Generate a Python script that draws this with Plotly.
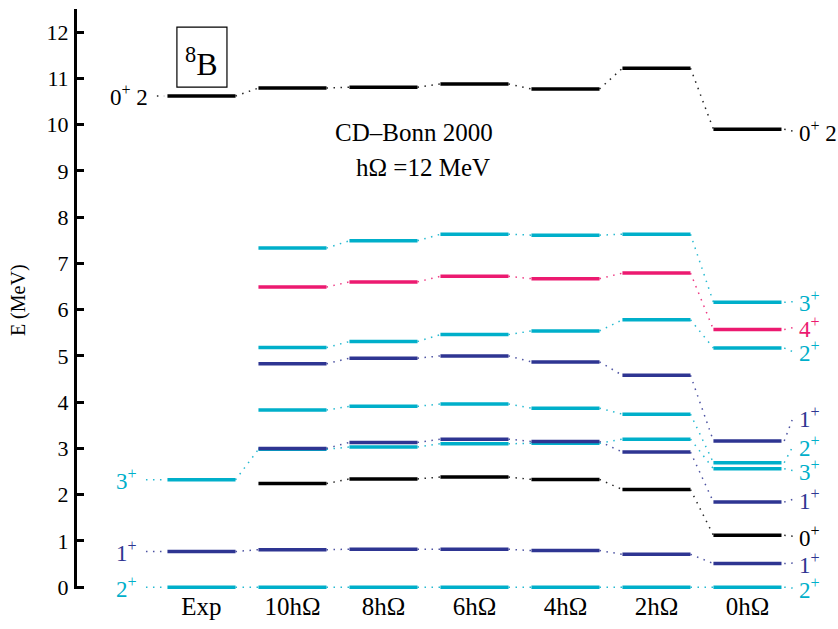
import plotly.graph_objects as go

# Columns of the level scheme: experiment and NCSM model spaces
columns = ["Exp", "10hΩ", "8hΩ", "6hΩ", "4hΩ", "2hΩ", "0hΩ"]

# Excitation energies (MeV) per state, one entry per column (None = not shown)
gs_2p      = [0.00, 0.00, 0.00, 0.00, 0.00, 0.00, 0.00]
first_1p   = [0.77, 0.81, 0.82, 0.82, 0.79, 0.71, 0.51]
first_3p   = [2.32, 2.98, 3.03, 3.10, 3.11, 3.20, 2.56]
first_0p   = [None, 2.24, 2.34, 2.38, 2.33, 2.11, 1.12]
second_1p  = [None, 3.00, 3.13, 3.20, 3.15, 2.92, 1.84]
second_2p  = [None, 3.83, 3.91, 3.96, 3.87, 3.74, 2.69]
third_1p   = [None, 4.83, 4.95, 5.00, 4.87, 4.58, 3.16]
third_2p   = [None, 5.18, 5.31, 5.46, 5.54, 5.78, 5.17]
first_4p   = [None, 6.49, 6.60, 6.72, 6.67, 6.79, 5.57]
second_3p  = [None, 7.33, 7.49, 7.63, 7.61, 7.63, 6.16]
t2_0p      = [10.62, 10.79, 10.81, 10.88, 10.77, 11.22, 9.90]

CYAN = "#00AFCA"
NAVY = "#2E3592"
PINK = "#EC1A70"
BLACK = "#000000"

# drawing order: cyan first so navy lines sit on top where they overlap
states = [
    (gs_2p, CYAN), (first_3p, CYAN), (second_2p, CYAN), (third_2p, CYAN),
    (second_3p, CYAN), (first_4p, PINK), (first_1p, NAVY), (second_1p, NAVY),
    (third_1p, NAVY), (first_0p, BLACK), (t2_0p, BLACK),
]

# Labels on the experimental side: (text, colour, energy)
left_labels = [
    ("2<sup>+</sup>", CYAN, gs_2p[0]),
    ("1<sup>+</sup>", NAVY, first_1p[0]),
    ("3<sup>+</sup>", CYAN, first_3p[0]),
    ("0<sup>+</sup> 2", BLACK, t2_0p[0]),
]
left_label_x = [-0.69, -0.69, -0.69, -0.57]

# Labels on the 0hΩ side: (text, colour, energy of level, label height)
right_labels = [
    ("0<sup>+</sup> 2", BLACK, t2_0p[6], 9.86),
    ("3<sup>+</sup>", CYAN, second_3p[6], 6.17),
    ("4<sup>+</sup>", PINK, first_4p[6], 5.61),
    ("2<sup>+</sup>", CYAN, third_2p[6], 5.09),
    ("1<sup>+</sup>", NAVY, third_1p[6], 3.66),
    ("2<sup>+</sup>", CYAN, second_2p[6], 3.05),
    ("3<sup>+</sup>", CYAN, first_3p[6], 2.52),
    ("1<sup>+</sup>", NAVY, second_1p[6], 1.90),
    ("0<sup>+</sup>", BLACK, first_0p[6], 1.10),
    ("1<sup>+</sup>", NAVY, first_1p[6], 0.52),
    ("2<sup>+</sup>", CYAN, gs_2p[6], -0.02),
]

HALF = 0.374          # half width of a level bar, in column units
FONT = "Liberation Serif"
DOT = "1.5px,5.5px"

fig = go.Figure()

for values, color in states:
    # dotted connectors between neighbouring columns
    cx, cy = [], []
    for i in range(len(values) - 1):
        a, b = values[i], values[i + 1]
        if a is None or b is None:
            continue
        cx += [i + HALF, i + 1 - HALF, None]
        cy += [a, b, None]
    if cx:
        fig.add_trace(go.Scatter(x=cx, y=cy, mode="lines", hoverinfo="skip",
                                 line=dict(color=color, width=1.5, dash=DOT),
                                 opacity=0.85, showlegend=False))

for values, color in states:
    # solid level bars
    lx, ly = [], []
    for i, v in enumerate(values):
        if v is None:
            continue
        lx += [i - HALF, i + HALF, None]
        ly += [v, v, None]
    fig.add_trace(go.Scatter(x=lx, y=ly, mode="lines", hoverinfo="skip",
                             line=dict(color=color, width=3.5),
                             showlegend=False))

annotations = []

# experimental spin labels with short dotted leaders
for (text, color, e), xl in zip(left_labels, left_label_x):
    fig.add_trace(go.Scatter(x=[xl + 0.08, -0.41], y=[e, e], mode="lines",
                             hoverinfo="skip", showlegend=False,
                             line=dict(color=color, width=1.5, dash=DOT),
                             opacity=0.85))
    annotations.append(dict(x=xl, y=e, xref="x", yref="y", text=text,
                            showarrow=False, xanchor="right", yanchor="middle",
                            font=dict(family=FONT, size=23, color=color)))

# 0hΩ spin labels with leaders bent towards the label
for text, color, e, ylab in right_labels:
    fig.add_trace(go.Scatter(x=[6 + HALF + 0.03, 6.50], y=[e, ylab], mode="lines",
                             hoverinfo="skip", showlegend=False,
                             line=dict(color=color, width=1.5, dash=DOT),
                             opacity=0.85))
    annotations.append(dict(x=6.545, y=ylab, xref="x", yref="y", text=text,
                            showarrow=False, xanchor="left", yanchor="middle",
                            font=dict(family=FONT, size=23, color=color)))

# nucleus tag in a framed box
annotations.append(dict(x=0, y=11.36, xref="x", yref="y",
                        text="<sup>8</sup>B", showarrow=False,
                        font=dict(family=FONT, size=32, color="black"),
                        xanchor="center", yanchor="middle"))
shapes = [dict(type="rect", xref="x", yref="y", x0=-0.27, x1=0.28,
               y0=10.81, y1=12.11, line=dict(color="black", width=1.2),
               fillcolor="rgba(0,0,0,0)")]

# interaction info
annotations.append(dict(x=2.34, y=9.82, xref="x", yref="y",
                        text="CD–Bonn 2000", showarrow=False,
                        font=dict(family=FONT, size=25, color="black")))
annotations.append(dict(x=2.43, y=9.08, xref="x", yref="y",
                        text="hΩ =12 MeV", showarrow=False,
                        font=dict(family=FONT, size=25, color="black")))
annotations.append(dict(x=-0.076, y=6.21, xref="paper", yref="y",
                        text="E (MeV)", textangle=-90, showarrow=False,
                        xanchor="center", yanchor="middle",
                        font=dict(family=FONT, size=20, color="black")))

fig.update_layout(
    width=838, height=629,
    margin=dict(l=77, r=0, t=9, b=40),
    paper_bgcolor="white", plot_bgcolor="white",
    annotations=annotations,
    shapes=shapes,
    xaxis=dict(range=[-1.368, 6.995], tickmode="array",
               tickvals=list(range(len(columns))), ticktext=columns,
               showline=False, showgrid=False, zeroline=False, ticks="",
               tickfont=dict(family=FONT, size=25, color="black"),
               fixedrange=True),
    yaxis=dict(range=[-0.04, 12.5], tickmode="array",
               tickvals=list(range(0, 13)),
               showline=True, linecolor="black", linewidth=3,
               ticks="inside", ticklen=7, tickwidth=3, tickcolor="black",
               showgrid=False, zeroline=False, ticklabelstandoff=1,
               tickfont=dict(family=FONT, size=22, color="black"),
               fixedrange=True),
)

fig.write_html("out.html")
